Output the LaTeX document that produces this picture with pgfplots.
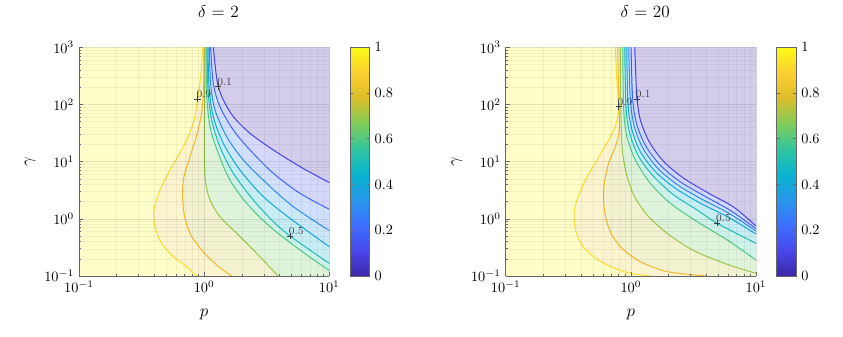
\documentclass[border=0pt]{standalone}
\usepackage{pgfplots}
\usepackage{pgfplotstable}
\pgfplotsset{compat=1.18}

% parula-like colours
\pgfplotsset{colormap={parula}{rgb=(0.2422,0.1504,0.6603) rgb=(0.2803,0.2782,0.9221)
  rgb=(0.2440,0.4358,0.9988) rgb=(0.1540,0.5902,0.9218) rgb=(0.0297,0.7082,0.8163)
  rgb=(0.1938,0.7758,0.6251) rgb=(0.5044,0.7993,0.3480) rgb=(0.8634,0.7406,0.1596)
  rgb=(0.9892,0.8136,0.1885) rgb=(0.9769,0.9839,0.0805)}}
% contour line colours (levels 0.1 ... 0.9)
\definecolor{lc1}{rgb}{0.2765,0.2654,0.8959}
\definecolor{lc2}{rgb}{0.2513,0.4043,0.9835}
\definecolor{lc3}{rgb}{0.1810,0.5439,0.9449}
\definecolor{lc4}{rgb}{0.0794,0.6610,0.8585}
\definecolor{lc5}{rgb}{0.1118,0.7420,0.7207}
\definecolor{lc6}{rgb}{0.3180,0.7852,0.5143}
\definecolor{lc7}{rgb}{0.6121,0.7817,0.2915}
\definecolor{lc8}{rgb}{0.9500,0.7200,0.1800}
\definecolor{lc9}{rgb}{0.9880,0.8706,0.1777}
% faded band fills
\definecolor{f0}{rgb}{0.8257,0.8046,0.9219}
\definecolor{f15}{rgb}{0.8315,0.8467,0.9883}
\definecolor{f25}{rgb}{0.8209,0.8791,0.9953}
\definecolor{f35}{rgb}{0.8011,0.9098,0.9784}
\definecolor{f45}{rgb}{0.7787,0.9337,0.9555}
\definecolor{f55}{rgb}{0.8127,0.9477,0.9160}
\definecolor{f65}{rgb}{0.8753,0.9530,0.8596}
\definecolor{f75}{rgb}{0.9480,0.9437,0.8175}
\definecolor{f85}{rgb}{0.9874,0.9512,0.8110}
\definecolor{f100}{rgb}{0.9947,0.9963,0.7885}

% contours, in log10(p) log10(gamma)
% delta = 2
\pgfplotstableread{
x y
-0.012 3.0
-0.025 2.545
-0.052 2.091
-0.087 1.671
-0.166 1.263
-0.273 0.854
-0.353 0.504
-0.401 0.155
-0.393 -0.137
-0.340 -0.429
-0.246 -0.662
-0.140 -0.837
-0.060 -1.0
}\Anine
\pgfplotstableread{
x y
-0.001 3.0
-0.004 2.370
-0.017 1.904
-0.055 1.496
-0.113 1.087
-0.161 0.738
-0.172 0.446
-0.161 0.096
-0.113 -0.254
-0.020 -0.545
0.100 -0.808
0.220 -1.0
}\Aeight
\pgfplotstableread{
x y
0.007 3.0
0.004 2.079
0.001 1.204
0.009 0.679
0.047 0.329
0.126 0.038
0.260 -0.254
0.419 -0.603
0.592 -1.0
}\Aseven
\pgfplotstableread{
x y
0.015 3.0
0.020 2.195
0.047 1.612
0.113 1.146
0.206 0.679
0.340 0.271
0.526 -0.137
0.766 -0.545
1.0 -0.907
}\Asix
\pgfplotstableread{
x y
0.023 3.0
0.031 2.254
0.060 1.729
0.126 1.262
0.233 0.796
0.393 0.329
0.540 -0.020
0.686 -0.300
1.0 -0.780
}\Afive
\pgfplotstableread{
x y
0.031 3.0
0.039 2.312
0.073 1.787
0.153 1.321
0.286 0.854
0.473 0.388
0.686 0.009
1.0 -0.487
}\Afour
\pgfplotstableread{
x y
0.041 3.0
0.052 2.370
0.087 1.904
0.180 1.437
0.313 1.029
0.499 0.621
0.712 0.213
1.0 -0.207
}\Athree
\pgfplotstableread{
x y
0.052 3.0
0.073 2.370
0.126 1.962
0.233 1.554
0.366 1.204
0.553 0.796
0.766 0.446
1.0 0.166
}\Atwo
\pgfplotstableread{
x y
0.073 3.0
0.095 2.545
0.113 2.312
0.153 2.079
0.233 1.787
0.366 1.496
0.553 1.204
0.766 0.913
1.0 0.633
}\Aone
% delta = 20
\pgfplotstableread{
x y
-0.124 3.0
-0.111 2.370
-0.097 1.962
-0.116 1.671
-0.178 1.379
-0.271 1.029
-0.364 0.679
-0.431 0.329
-0.453 0.096
-0.442 -0.195
-0.391 -0.458
-0.298 -0.662
-0.164 -0.837
-0.004 -0.953
0.156 -1.0
}\Bnine
\pgfplotstableread{
x y
-0.105 3.0
-0.097 2.079
-0.092 1.554
-0.124 1.262
-0.178 0.971
-0.212 0.621
-0.218 0.329
-0.202 0.038
-0.159 -0.254
-0.071 -0.516
0.076 -0.749
0.290 -0.924
0.610 -1.0
}\Beight
\pgfplotstableread{
x y
-0.084 3.0
-0.079 1.787
-0.068 1.204
-0.036 0.796
0.023 0.417
0.130 0.067
0.290 -0.254
0.503 -0.557
0.770 -0.796
1.0 -0.953
}\Bseven
\pgfplotstableread{
x y
-0.065 3.0
-0.057 1.904
-0.031 1.437
0.036 1.029
0.156 0.621
0.316 0.271
0.530 -0.050
0.770 -0.370
1.0 -0.720
}\Bsix
\pgfplotstableread{
x y
-0.049 3.0
-0.039 1.962
-0.009 1.496
0.063 1.087
0.183 0.738
0.343 0.417
0.530 0.155
0.690 -0.079
1.0 -0.429
}\Bfive
\pgfplotstableread{
x y
-0.033 3.0
-0.023 2.021
0.009 1.554
0.076 1.175
0.196 0.825
0.356 0.534
0.557 0.271
0.770 0.038
1.0 -0.265
}\Bfour
\pgfplotstableread{
x y
-0.017 3.0
-0.004 2.079
0.028 1.612
0.097 1.233
0.215 0.883
0.375 0.592
0.578 0.330
0.784 0.096
1.0 -0.213
}\Bthree
\pgfplotstableread{
x y
0.001 3.0
0.015 2.079
0.049 1.641
0.119 1.274
0.236 0.936
0.397 0.644
0.597 0.388
0.798 0.143
1.0 -0.172
}\Btwo
\pgfplotstableread{
x y
0.031 3.0
0.044 2.254
0.049 2.091
0.076 1.729
0.146 1.350
0.263 1.000
0.423 0.708
0.623 0.446
0.824 0.201
1.0 -0.125
}\Bone

\def\mx{-0.699,-0.5229,-0.3979,-0.301,-0.2218,-0.1549,-0.0969,-0.0458,0.301,0.4771,0.6021,0.699,0.7782,0.8451,0.9031,0.9542}
\def\my{-0.699,-0.5229,-0.3979,-0.301,-0.2218,-0.1549,-0.0969,-0.0458,0.301,0.4771,0.6021,0.699,0.7782,0.8451,0.9031,0.9542,1.301,1.4771,1.6021,1.699,1.7782,1.8451,1.9031,1.9542,2.301,2.4771,2.6021,2.699,2.7782,2.8451,2.9031,2.9542}

\pgfplotsset{
  cmap/.style={
    scale only axis, width=175.2pt, height=160.1pt,
    xmin=-1, xmax=1, ymin=-1, ymax=3,
    axis on top, axis x line=bottom, axis y line=left,
    axis line style={-, black!60},
    xtick={-1,0,1}, ytick={-1,0,1,2,3},
    xticklabel={$10^{\pgfmathprintnumber{\tick}}$},
    yticklabel={$10^{\pgfmathprintnumber{\tick}}$},
    minor xtick=\mx, minor ytick=\my,
    grid=both,
    major grid style={black, opacity=0.10, line width=0.35pt},
    minor grid style={black, opacity=0.05, line width=0.3pt},
    tick align=inside, major tick length=3pt, minor tick length=1.6pt,
    every tick/.style={black!60},
    xlabel={$p$}, ylabel={$\gamma$},
    every axis x label/.style={at={(axis description cs:0.5,-0.17)}, anchor=center, font=\large},
    every axis y label/.style={at={(axis description cs:-0.195,0.5)}, anchor=center, rotate=90, font=\large},
    title style={font=\large, at={(0.5,1)}, anchor=base, yshift=15pt, xshift=10pt},
    axis background/.style={fill=f100},
    colormap name=parula, colorbar, point meta min=0, point meta max=1,
    /pgfplots/colorbar/width=13.7pt,
    colorbar style={at={(parent axis.north east)}, anchor=north west, xshift=6pt,
      scale only axis, width=13.7pt, height=160.1pt,
      axis lines=box, grid=none, title={}, xlabel={}, ylabel={},
      xtick=\empty, minor xtick={}, minor ytick={},
      ytick={0,0.2,0.4,0.6,0.8,1}, yticklabel={\pgfmathprintnumber{\tick}},
      yticklabel pos=right, tick align=inside, major tick length=2pt,
      axis line style={black!60}, every tick/.style={black!60}},
  },
  band/.style={draw=none, fill=#1, forget plot},
  cl/.style={#1, line width=0.7pt, smooth, tension=0.5, forget plot},
  clab/.style={only marks, mark=+, mark size=2.2pt, black!75, forget plot,
    point meta=explicit symbolic, nodes near coords,
    every node near coord/.style={anchor=south west, inner sep=0.6pt, xshift=-1.5pt,
      font=\fontsize{7.5}{8}\selectfont, text=black!75}},
}

\begin{document}
\begin{tikzpicture}
\path[use as bounding box] (0,0) rectangle (590.1pt,235.9pt);

\begin{axis}[cmap, at={(55.3pt,42.7pt)}, anchor=south west, title={$\delta$ = 2}]
\addplot[band=f85] table {\Anine} -- (axis cs:1,-1) -- (axis cs:1,3) -- cycle;
\addplot[band=f75] table {\Aeight} -- (axis cs:1,-1) -- (axis cs:1,3) -- cycle;
\addplot[band=f65] table {\Aseven} -- (axis cs:1,-1) -- (axis cs:1,3) -- cycle;
\addplot[band=f55] table {\Asix} -- (axis cs:1,3) -- cycle;
\addplot[band=f45] table {\Afive} -- (axis cs:1,3) -- cycle;
\addplot[band=f35] table {\Afour} -- (axis cs:1,3) -- cycle;
\addplot[band=f25] table {\Athree} -- (axis cs:1,3) -- cycle;
\addplot[band=f15] table {\Atwo} -- (axis cs:1,3) -- cycle;
\addplot[band=f0] table {\Aone} -- (axis cs:1,3) -- cycle;
\addplot[cl=lc9] table {\Anine};
\addplot[cl=lc8] table {\Aeight};
\addplot[cl=lc7] table {\Aseven};
\addplot[cl=lc6] table {\Asix};
\addplot[cl=lc5] table {\Afive};
\addplot[cl=lc4] table {\Afour};
\addplot[cl=lc3] table {\Athree};
\addplot[cl=lc2] table {\Atwo};
\addplot[cl=lc1] table {\Aone};
\addplot[clab] coordinates {(-0.052,2.091)[0.9] (0.113,2.312)[0.1] (0.686,-0.300)[0.5]};
\end{axis}

\begin{axis}[cmap, at={(354.0pt,42.7pt)}, anchor=south west, title={$\delta$ = 20}]
\addplot[band=f85] table {\Bnine} -- (axis cs:1,-1) -- (axis cs:1,3) -- cycle;
\addplot[band=f75] table {\Beight} -- (axis cs:1,-1) -- (axis cs:1,3) -- cycle;
\addplot[band=f65] table {\Bseven} -- (axis cs:1,3) -- cycle;
\addplot[band=f55] table {\Bsix} -- (axis cs:1,3) -- cycle;
\addplot[band=f45] table {\Bfive} -- (axis cs:1,3) -- cycle;
\addplot[band=f35] table {\Bfour} -- (axis cs:1,3) -- cycle;
\addplot[band=f25] table {\Bthree} -- (axis cs:1,3) -- cycle;
\addplot[band=f15] table {\Btwo} -- (axis cs:1,3) -- cycle;
\addplot[band=f0] table {\Bone} -- (axis cs:1,3) -- cycle;
\addplot[cl=lc9] table {\Bnine};
\addplot[cl=lc8] table {\Beight};
\addplot[cl=lc7] table {\Bseven};
\addplot[cl=lc6] table {\Bsix};
\addplot[cl=lc5] table {\Bfive};
\addplot[cl=lc4] table {\Bfour};
\addplot[cl=lc3] table {\Bthree};
\addplot[cl=lc2] table {\Btwo};
\addplot[cl=lc1] table {\Bone};
\addplot[clab] coordinates {(-0.097,1.962)[0.9] (0.049,2.091)[0.1] (0.690,-0.079)[0.5]};
\end{axis}
\end{tikzpicture}
\end{document}
